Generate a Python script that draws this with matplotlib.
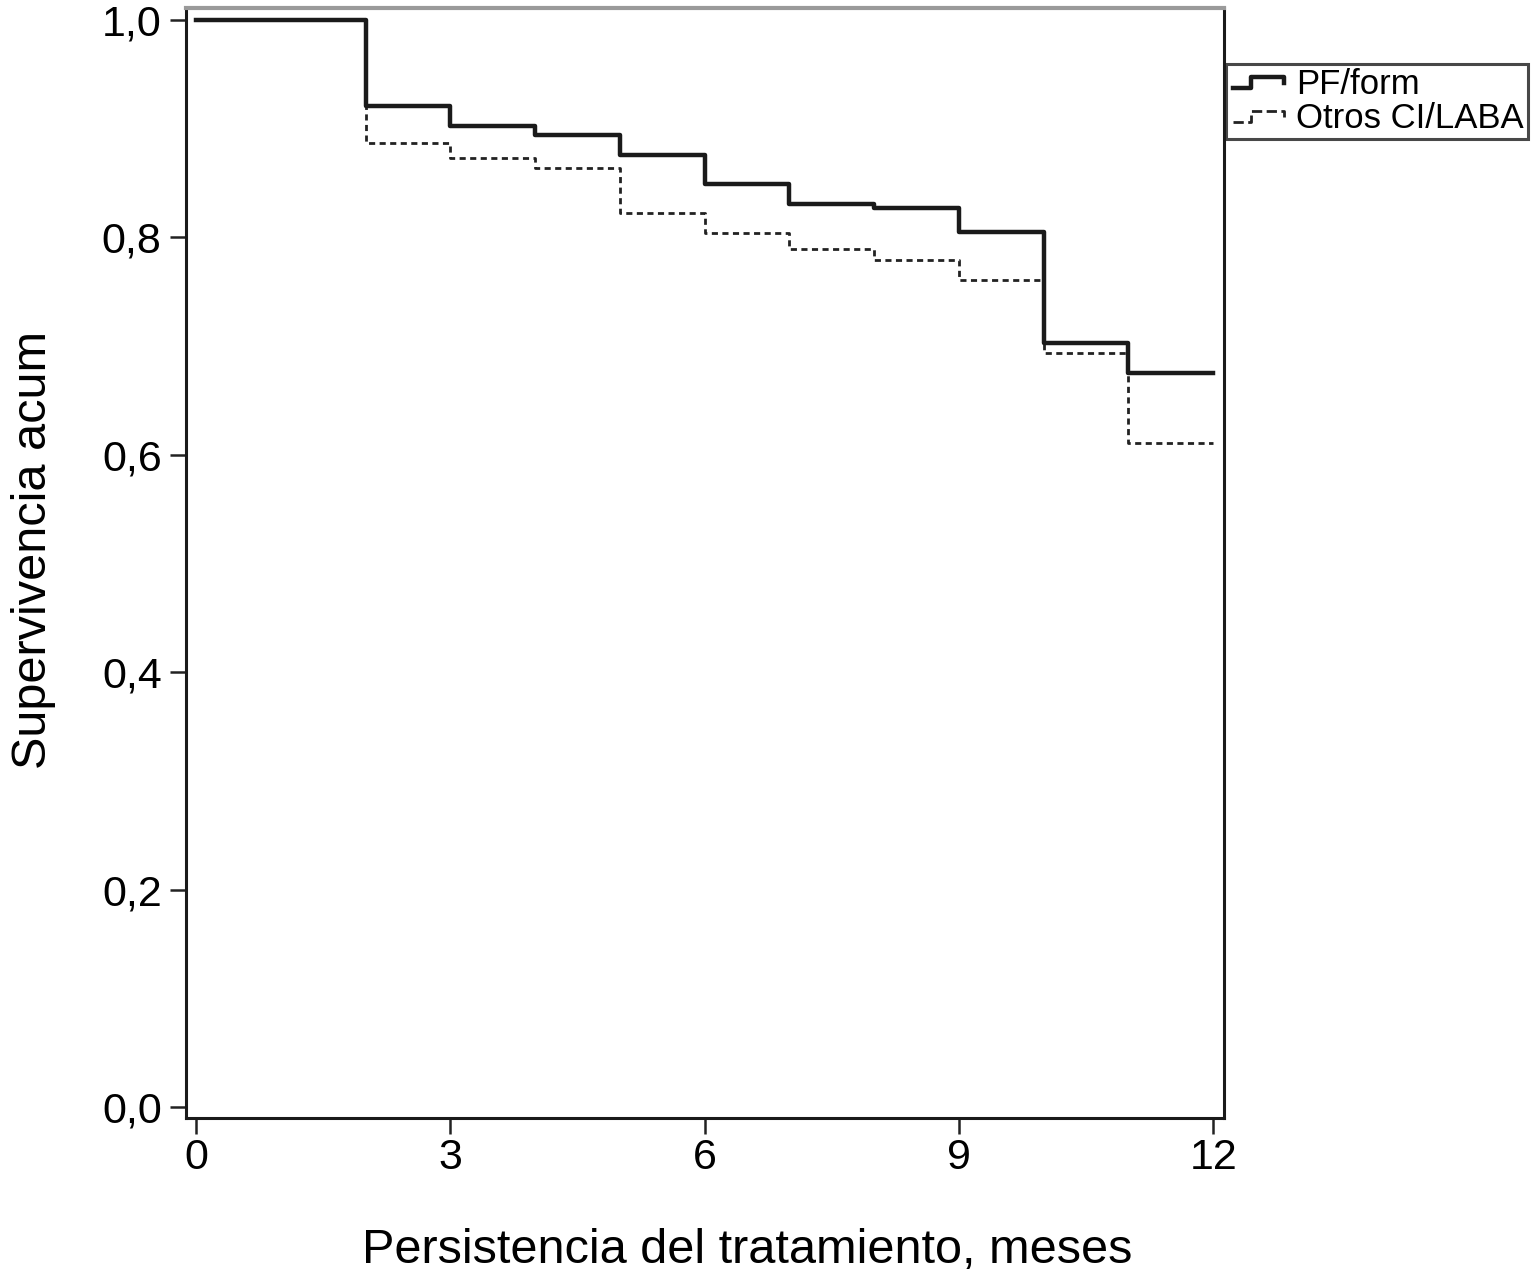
import numpy as np
import matplotlib.pyplot as plt
from matplotlib.legend_handler import HandlerBase
from matplotlib.lines import Line2D

plt.rcParams['font.family'] = ['Liberation Sans', 'DejaVu Sans']

# Kaplan-Meier steps (months)
meses = [0, 2, 3, 4, 5, 6, 7, 8, 9, 10, 11, 12]
pf_form = [1.0, 0.921, 0.902, 0.894, 0.876, 0.849, 0.831, 0.827, 0.805, 0.703, 0.675, 0.675]
otros = [1.0, 0.887, 0.873, 0.864, 0.822, 0.804, 0.789, 0.779, 0.761, 0.694, 0.611, 0.611]

x_ticks = [0, 3, 6, 9, 12]
y_ticks = [0.0, 0.2, 0.4, 0.6, 0.8, 1.0]
y_labels = ['0,0', '0,2', '0,4', '0,6', '0,8', '1,0']


class StepHandler(HandlerBase):
    # small step-shaped legend icon, like SPSS survival plots
    def create_artists(self, legend, orig_handle, xdescent, ydescent,
                       width, height, fontsize, trans):
        w, h = width, height
        xs = np.array([0.05, 0.38, 0.38, 1.0, 1.0]) * w - xdescent
        ys = np.array([0.25, 0.25, 0.7, 0.7, 0.45]) * h - ydescent
        ln = Line2D(xs, ys, color=orig_handle.get_color(),
                    lw=orig_handle.get_linewidth(),
                    linestyle=orig_handle.get_linestyle(), transform=trans)
        return [ln]


fig = plt.figure(figsize=(15.36, 12.72), dpi=100)
ax = fig.add_axes([0.1211, 0.1211, 0.797 - 0.1211, 0.9937 - 0.1211])

l_otros, = ax.step(meses, otros, where='post', color='#222222', lw=2.0,
                   linestyle=(0, (2.2, 1.6)), label='Otros CI/LABA')
l_pf, = ax.step(meses, pf_form, where='post', color='#1a1a1a', lw=3.2,
                label='PF/form')

ax.set_xlim(-0.118, 12.13)
ax.set_ylim(-0.0101, 1.011)
ax.set_xticks(x_ticks)
ax.set_yticks(y_ticks)
ax.set_yticklabels(y_labels)
ax.tick_params(axis='both', labelsize=31, length=11.5, width=1.8, color='#222222')
ax.tick_params(axis='y', pad=6)
ax.tick_params(axis='x', pad=3)

for side in ['left', 'bottom', 'right']:
    ax.spines[side].set_linewidth(2.2)
    ax.spines[side].set_color('#1a1a1a')
ax.spines['top'].set_linewidth(3)
ax.spines['top'].set_color('#9a9a9a')

ax.set_xlabel('Persistencia del tratamiento, meses', fontsize=35, labelpad=36)
ax.set_ylabel('Supervivencia acum', fontsize=35, labelpad=33)
ax.xaxis.label.set_x(0.541)
ax.yaxis.label.set_y(0.512)

leg = fig.legend([l_pf, l_otros], ['PF/form', 'Otros CI/LABA'], loc='upper left',
                 bbox_to_anchor=(1226 / 1536, 1 - 64 / 1272),
                 fontsize=25, frameon=True, fancybox=False,
                 handler_map={Line2D: StepHandler()},
                 handlelength=1.55, handletextpad=0.35, borderpad=0.12,
                 labelspacing=0.02, borderaxespad=0)
leg.get_frame().set_edgecolor('#1a1a1a')
leg.get_frame().set_linewidth(2.2)

fig.savefig('out.png', dpi=100)
